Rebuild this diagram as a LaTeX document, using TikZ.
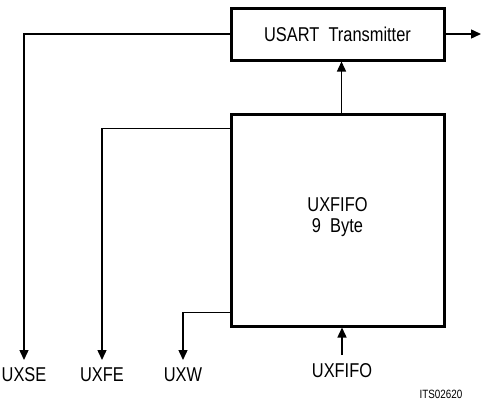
\documentclass[tikz,border=0pt]{standalone}
\usepackage{fontspec}
\setmainfont{Liberation Sans}[FakeStretch=0.82]
\usetikzlibrary{arrows.meta,positioning}

\begin{document}
\begin{tikzpicture}[x=0.5pt,y=-0.5pt,
  blk/.style={draw,line width=1.5pt,inner sep=0pt,minimum width=106.5pt,
    font=\fontsize{10}{12}\selectfont,align=center},
  sig/.style={line width=0.7pt,-{Triangle[length=5pt,width=4.5pt]}},
  pin/.style={inner sep=0pt,anchor=north,font=\fontsize{10}{12}\selectfont}]
  \useasboundingbox (0,0) rectangle (482,402);
  % blocks
  \node[blk,minimum height=26pt] (tx) at (337.5,34) {USART\ \ Transmitter};
  \node[blk,minimum height=106pt] (fifo) at (337.5,220)
    {\raisebox{5pt}{\shortstack{UXFIFO\\9\ \ Byte}}};
  % pins
  \node[pin] (uxse) at (24,367) {UXSE};
  \node[pin] (uxfe) at (102,367) {UXFE};
  \node[pin] (uxw) at (183,367) {UXW};
  \node[pin] (uxfifo) at (342,363) {UXFIFO};
  \node[inner sep=0pt,font=\fontsize{6}{7}\selectfont] (code) at (441,394) {ITS02620};
  \coordinate (txout) at (481,34);
  % signals
  \draw[sig] (tx.east) -- (txout);
  \draw[sig] ([xshift=2pt]fifo.north) -- ([xshift=2pt]tx.south);
  \draw[sig] (tx.west) -| ([yshift=3.5pt]uxse.north);
  \draw[sig] ([yshift=-8pt]fifo.north west) -| ([yshift=3.5pt]uxfe.north);
  \draw[sig] ([yshift=7.5pt]fifo.south west) -| ([yshift=3.5pt]uxw.north);
  \draw[sig] ([yshift=4pt]uxfifo.north) -- (uxfifo.north |- fifo.south);
\end{tikzpicture}
\end{document}
